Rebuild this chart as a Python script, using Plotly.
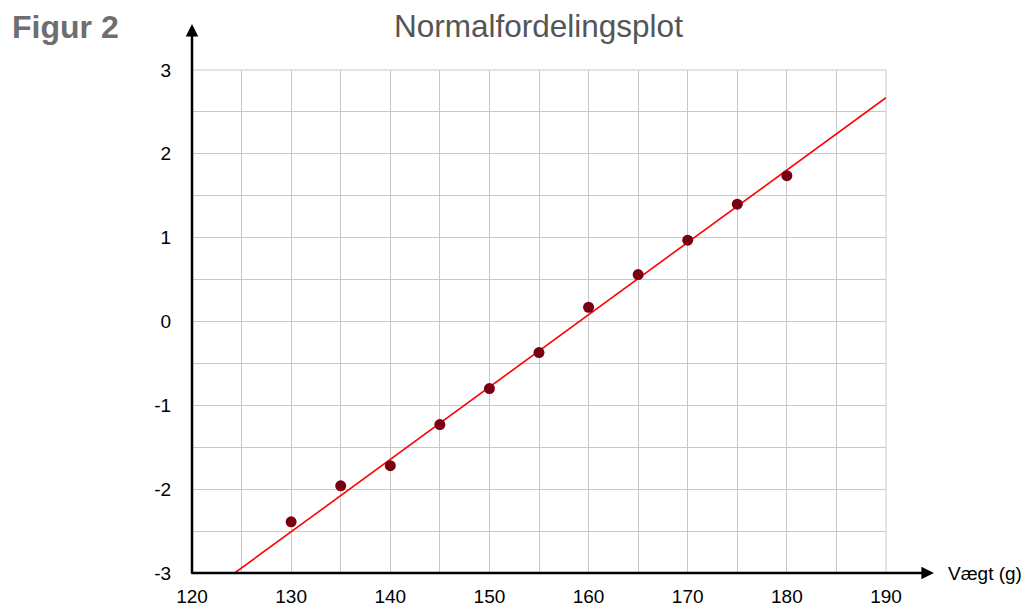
import plotly.graph_objects as go

# Observed weights (g) and their normal scores
weights = [130, 135, 140, 145, 150, 155, 160, 165, 170, 175, 180]
normal_scores = [-2.39, -1.96, -1.72, -1.23, -0.80, -0.37, 0.17, 0.56, 0.97, 1.40, 1.74]

# Fitted straight line (endpoints)
fit_x = [124.3, 190]
fit_y = [-3.0, 2.67]

x_ticks = [120, 130, 140, 150, 160, 170, 180, 190]
y_ticks = [-3, -2, -1, 0, 1, 2, 3]

FONT = "Liberation Sans, Arial, sans-serif"
GRID = "#c8c8c8"

fig = go.Figure()

fig.add_trace(go.Scatter(
    x=fit_x, y=fit_y, mode="lines",
    line=dict(color="#ff0000", width=1.6),
    hoverinfo="skip", cliponaxis=True,
))
fig.add_trace(go.Scatter(
    x=weights, y=normal_scores, mode="markers",
    marker=dict(color="#780010", size=11, line=dict(width=0)),
))

fig.update_layout(
    width=1029, height=607,
    margin=dict(l=192, r=143, t=70, b=34),
    paper_bgcolor="white", plot_bgcolor="white",
    showlegend=False,
    font=dict(family=FONT, size=19, color="black"),
    xaxis=dict(
        range=[120, 190], tickmode="array", tickvals=x_ticks,
        ticktext=[str(v) for v in x_ticks],
        showgrid=True, gridcolor=GRID, gridwidth=1,
        minor=dict(dtick=5, showgrid=True, gridcolor=GRID, gridwidth=1),
        zeroline=False, showline=False, automargin=False,
        ticks="outside", ticklen=6, tickcolor="rgba(0,0,0,0)",
        fixedrange=True,
    ),
    yaxis=dict(
        range=[-3, 3], tickmode="array", tickvals=y_ticks,
        ticktext=[str(v) for v in y_ticks],
        showgrid=True, gridcolor=GRID, gridwidth=1,
        minor=dict(dtick=0.5, showgrid=True, gridcolor=GRID, gridwidth=1),
        zeroline=False, showline=False, automargin=False,
        ticks="outside", ticklen=16, tickcolor="rgba(0,0,0,0)",
        fixedrange=True,
    ),
)

# Outer grid border (top and right edges)
fig.add_shape(type="rect", xref="paper", yref="paper", x0=0, y0=0, x1=1, y1=1,
              line=dict(color=GRID, width=1), layer="below")

# Axes drawn as arrows
fig.add_annotation(xref="paper", yref="paper", x=1.069, y=0,
                   axref="pixel", ayref="pixel", ax=-744, ay=0,
                   showarrow=True, arrowhead=2, arrowsize=1, arrowwidth=2.5,
                   arrowcolor="black", text="")
fig.add_annotation(xref="paper", yref="paper", x=0, y=1.0915,
                   axref="pixel", ayref="pixel", ax=0, ay=551,
                   showarrow=True, arrowhead=2, arrowsize=1, arrowwidth=2.5,
                   arrowcolor="black", text="")

fig.add_annotation(xref="paper", yref="paper", x=1.0865, y=0,
                   xanchor="left", yanchor="middle", showarrow=False,
                   text="Vægt (g)", font=dict(family=FONT, size=19, color="black"))

fig.add_annotation(xref="paper", yref="paper", x=0.4986, y=1.0875,
                   xanchor="center", yanchor="middle", showarrow=False,
                   text="Normalfordelingsplot",
                   font=dict(family=FONT, size=31.5, color="#555555"))

fig.add_annotation(xref="paper", yref="paper", x=-0.2622, y=1.0855,
                   xanchor="left", yanchor="middle", showarrow=False,
                   text="<b>Figur 2</b>",
                   font=dict(family=FONT, size=32, color="#6e6e6e"))

fig.write_html("out.html")
